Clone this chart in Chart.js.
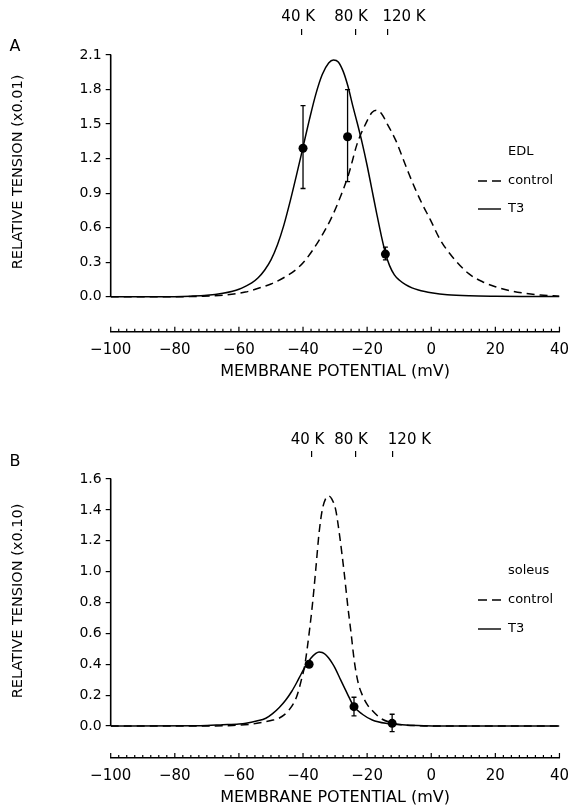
<!DOCTYPE html>
<html><head><meta charset="utf-8">
<script src="https://cdn.jsdelivr.net/npm/chart.js@4/dist/chart.umd.min.js"></script>
<style>
html,body{margin:0;padding:0;background:#fff;}
#wrap{position:relative;width:578px;height:808px;background:#fff;}
.c{position:absolute;left:0;width:578px;}
</style></head><body>
<div id="wrap">
<div class="c" style="top:0;height:400px"><canvas id="cA"></canvas></div>
<div class="c" style="top:400px;height:408px"><canvas id="cB"></canvas></div>
</div>
<script>
// ---------- DATA ----------
const xTickValues = [-100, -80, -60, -40, -20, 0, 20, 40];
const kLabels = ['40 K', '80 K', '120 K'];
const kPositionsA = [-40.3, -23.6, -13.6];
const kPositionsB = [-37.4, -23.6, -11.9];
const kLabelCentersA = [-41.5, -25.0, -8.5];
const kLabelCentersB = [-38.6, -25.0, -6.8];
const yTicksA = [0, 0.3, 0.6, 0.9, 1.2, 1.5, 1.8, 2.1];
const yTicksB = [0, 0.2, 0.4, 0.6, 0.8, 1.0, 1.2, 1.4, 1.6];

// Panel A (EDL) curves [mV, tension]
const edlControl = [[-100,0],[-80,0],[-72,0.003],[-64,0.015],[-58,0.04],[-53.7,0.075],[-50,0.11],[-45.4,0.175],[-42,0.24],[-39.2,0.32],[-35,0.49],[-31.4,0.67],[-28.3,0.87],[-25.7,1.07],[-23.1,1.33],[-20.5,1.5],[-18.5,1.6],[-17,1.62],[-15.5,1.59],[-13.7,1.5],[-11.1,1.36],[-9.1,1.22],[-7,1.07],[-4.9,0.93],[-2.9,0.81],[-0.3,0.67],[2.9,0.49],[6.5,0.35],[11.7,0.2],[16,0.13],[20,0.087],[25,0.05],[29.3,0.03],[34,0.015],[40,0.005]];
const edlT3 = [[-100,0],[-85,0],[-75,0.005],[-70,0.012],[-65,0.03],[-62,0.048],[-60,0.065],[-58,0.09],[-56,0.12],[-54,0.165],[-52,0.23],[-50,0.32],[-48,0.45],[-46,0.62],[-44,0.83],[-42,1.06],[-40,1.3],[-38,1.54],[-36,1.76],[-34,1.93],[-32,2.03],[-30.5,2.056],[-29,2.04],[-27.5,1.96],[-26,1.83],[-24.5,1.66],[-23,1.5],[-21.5,1.33],[-20,1.14],[-18.5,0.93],[-17,0.72],[-15.5,0.52],[-14.3,0.38],[-13,0.27],[-11.5,0.19],[-10,0.145],[-8,0.105],[-6,0.077],[-4,0.058],[-2,0.045],[0,0.035],[5,0.018],[12,0.008],[20,0.004],[30,0.002],[40,0.001]];
const edlPointsX = [-40, -26.1, -14.3];
const edlPointsY = [1.29, 1.39, 0.37];
const edlErrLow = [0.94, 1.00, 0.32];
const edlErrHigh = [1.66, 1.80, 0.43];

// Panel B (soleus) curves
const solControl = [[-100,0],[-70,0],[-62,0.003],[-56,0.012],[-53,0.022],[-50,0.035],[-47.5,0.05],[-44.5,0.1],[-42,0.19],[-40.5,0.3],[-39.4,0.4],[-38.1,0.6],[-37,0.8],[-36,1.02],[-35,1.25],[-34,1.4],[-33,1.47],[-32,1.49],[-31,1.47],[-29.8,1.4],[-28.5,1.22],[-27.2,1.0],[-26,0.77],[-25,0.6],[-24,0.42],[-22.8,0.28],[-21.5,0.2],[-20,0.14],[-18.4,0.1],[-15.8,0.05],[-12.3,0.02],[-8,0.006],[-4,0.002],[0,0],[40,0]];
const solT3 = [[-100,0],[-72,0.002],[-65,0.008],[-60,0.013],[-57.8,0.018],[-54.5,0.032],[-51.6,0.05],[-49.5,0.08],[-47.4,0.12],[-45.5,0.165],[-43.5,0.225],[-42,0.28],[-40.5,0.34],[-39,0.395],[-37.5,0.44],[-36,0.47],[-35,0.48],[-34,0.476],[-33,0.463],[-32,0.44],[-31,0.41],[-30,0.375],[-28.3,0.3],[-26.2,0.21],[-24.1,0.125],[-21.5,0.076],[-18.4,0.039],[-14.2,0.017],[-8,0.006],[-2,0.002],[10,0],[40,0]];
const solPointsX = [-38.1, -24.1, -12.2];
const solPointsY = [0.40, 0.125, 0.017];
const solErrLow = [0.39, 0.065, -0.037];
const solErrHigh = [0.41, 0.186, 0.076];

// ---------- HELPERS ----------
const FONT = 'DejaVu Sans';
const toXY = arr => arr.map(p => ({x: p[0], y: p[1]}));
const fmtX = v => v < 0 ? '\u2212' + Math.abs(v) : String(v);

function makePanel(canvasId, p) {
  const decor = {
    id: 'decor' + canvasId,
    afterDatasetsDraw(chart) {
      const ctx = chart.ctx, xs = chart.scales.x, ys = chart.scales.y;
      ctx.save();
      ctx.strokeStyle = '#000'; ctx.fillStyle = '#000';
      ctx.lineWidth = 1.3;
      for (let i = 0; i < p.px.length; i++) {
        const x = xs.getPixelForValue(p.px[i]);
        const y1 = ys.getPixelForValue(p.lo[i]), y2 = ys.getPixelForValue(p.hi[i]);
        ctx.beginPath();
        ctx.moveTo(x, y1); ctx.lineTo(x, y2);
        ctx.moveTo(x - 2.5, y1); ctx.lineTo(x + 2.5, y1);
        ctx.moveTo(x - 2.5, y2); ctx.lineTo(x + 2.5, y2);
        ctx.stroke();
      }
      ctx.restore();
    },
    afterDraw(chart) {
      const ctx = chart.ctx, xs = chart.scales.x, ys = chart.scales.y;
      const area = chart.chartArea;
      ctx.save();
      ctx.strokeStyle = '#000'; ctx.fillStyle = '#000';
      // y axis line (from 0 to top tick)
      ctx.lineWidth = 1.6;
      const xl = xs.getPixelForValue(-100);
      ctx.beginPath();
      ctx.moveTo(xl, ys.getPixelForValue(0));
      ctx.lineTo(xl, ys.getPixelForValue(p.yTicks[p.yTicks.length - 1]) - 0.5);
      ctx.stroke();
      // upward ticks on detached x axis
      ctx.lineWidth = 1.2;
      for (let v = -100; v <= 40; v += 2.5) {
        const major = (v % 20 === 0);
        const x = xs.getPixelForValue(v);
        ctx.beginPath();
        ctx.moveTo(x, area.bottom);
        ctx.lineTo(x, area.bottom - (major ? 5 : 3));
        ctx.stroke();
      }
      // K labels above their tick marks
      ctx.font = '15px "' + FONT + '"';
      ctx.textAlign = 'center'; ctx.textBaseline = 'middle';
      for (let i = 0; i < kLabels.length; i++) {
        ctx.fillText(kLabels[i], xs.getPixelForValue(p.kLabelPos[i]), p.kLabelY);
      }
      // panel letter
      ctx.font = '16px "' + FONT + '"';
      ctx.fillText(p.letter, 15, p.letterY);
      // y title
      ctx.save();
      ctx.translate(18, p.yTitleY);
      ctx.rotate(-Math.PI / 2);
      ctx.font = '14.5px "' + FONT + '"';
      ctx.fillText(p.yTitle, 0, 0);
      ctx.restore();
      // legend
      ctx.font = '13px "' + FONT + '"';
      ctx.textAlign = 'left';
      ctx.fillText(p.legendTitle, 508, p.legY[0]);
      ctx.fillText('control', 508, p.legY[1]);
      ctx.fillText('T3', 508, p.legY[2]);
      ctx.lineWidth = 1.4;
      ctx.setLineDash([9, 5]);
      ctx.beginPath(); ctx.moveTo(478, p.legY[1]); ctx.lineTo(501, p.legY[1]); ctx.stroke();
      ctx.setLineDash([]);
      ctx.beginPath(); ctx.moveTo(478, p.legY[2]); ctx.lineTo(501, p.legY[2]); ctx.stroke();
      ctx.restore();
    }
  };

  return new Chart(document.getElementById(canvasId), {
    type: 'line',
    data: {
      datasets: [
        { label: 'control', data: toXY(p.control), borderColor: '#000', borderWidth: 1.5,
          borderDash: [8, 5], pointRadius: 0, cubicInterpolationMode: 'monotone', fill: false, xAxisID: 'x', yAxisID: 'y' },
        { label: 'T3', data: toXY(p.t3), borderColor: '#000', borderWidth: 1.5,
          pointRadius: 0, cubicInterpolationMode: 'monotone', fill: false, xAxisID: 'x', yAxisID: 'y' },
        { label: 'data', data: p.px.map((x, i) => ({x, y: p.py[i]})), showLine: false,
          pointRadius: 4.5, pointBackgroundColor: '#000', pointBorderColor: '#000', pointBorderWidth: 0,
          xAxisID: 'x', yAxisID: 'y' }
      ]
    },
    options: {
      responsive: true, maintainAspectRatio: false, animation: false,
      layout: { padding: { left: 0, right: 578 - 560.7, top: 0, bottom: 0 } },
      plugins: { legend: { display: false }, tooltip: { enabled: false } },
      scales: {
        x: {
          type: 'linear', position: 'bottom', min: -100, max: 40,
          afterBuildTicks(s) { s.ticks = xTickValues.map(v => ({value: v})); },
          ticks: { callback: v => fmtX(v), font: { family: FONT, size: 15 }, color: '#000',
                   padding: 9, maxRotation: 0, autoSkip: false },
          grid: { drawOnChartArea: false, drawTicks: false },
          border: { display: true, color: '#000', width: 1.6 },
          title: { display: true, text: 'MEMBRANE POTENTIAL (mV)', color: '#000',
                   font: { family: FONT, size: 16 }, padding: { top: 0, bottom: p.titlePad } },
          afterFit(s) { s.height = p.xHeight; }
        },
        xTop: {
          type: 'linear', position: 'top', min: -100, max: 40,
          afterBuildTicks(s) { s.ticks = p.kPos.map(v => ({value: v})); },
          ticks: { callback: () => '', font: { family: FONT, size: 15 }, color: '#000',
                   padding: 3, maxRotation: 0, autoSkip: false },
          grid: { drawOnChartArea: false, drawTicks: true, tickLength: 6, color: '#000', lineWidth: 1.2 },
          border: { display: false },
          afterFit(s) { s.height = p.topHeight; }
        },
        y: {
          type: 'linear', position: 'left', min: p.yMin, max: p.yMax,
          afterBuildTicks(s) { s.ticks = p.yTicks.map(v => ({value: v})); },
          ticks: { callback: v => v.toFixed(1), font: { family: FONT, size: 14 }, color: '#000',
                   padding: 4, autoSkip: false },
          grid: { drawOnChartArea: false, drawTicks: true, tickLength: 5, color: '#000', lineWidth: 1.2 },
          border: { display: false },
          afterFit(s) { s.width = 110.7; }
        }
      }
    },
    plugins: [decor]
  });
}

// Panel A: canvas 0..400
makePanel('cA', {
  control: edlControl, t3: edlT3,
  px: edlPointsX, py: edlPointsY, lo: edlErrLow, hi: edlErrHigh,
  kPos: kPositionsA, kLabelPos: kLabelCentersA, kLabelY: 17, yTicks: yTicksA,
  yMin: -35 / 115.1, yMax: 2.1 + 20 / 115.1,
  topHeight: 35, xHeight: 400 - 331.7, titlePad: 19,
  letter: 'A', letterY: 47, yTitle: 'RELATIVE TENSION (x0.01)', yTitleY: 172,
  legendTitle: 'EDL', legY: [152, 181, 209]
});

// Panel B: canvas 400..808 (local coordinates)
makePanel('cB', {
  control: solControl, t3: solT3,
  px: solPointsX, py: solPointsY, lo: solErrLow, hi: solErrHigh,
  kPos: kPositionsB, kLabelPos: kLabelCentersB, kLabelY: 40, yTicks: yTicksB,
  yMin: -32 / 154.2, yMax: 1.6 + 22 / 154.2,
  topHeight: 57, xHeight: 408 - 358, titlePad: 1,
  letter: 'B', letterY: 62, yTitle: 'RELATIVE TENSION (x0.10)', yTitleY: 201,
  legendTitle: 'soleus', legY: [171, 200, 229]
});
</script>
</body></html>
